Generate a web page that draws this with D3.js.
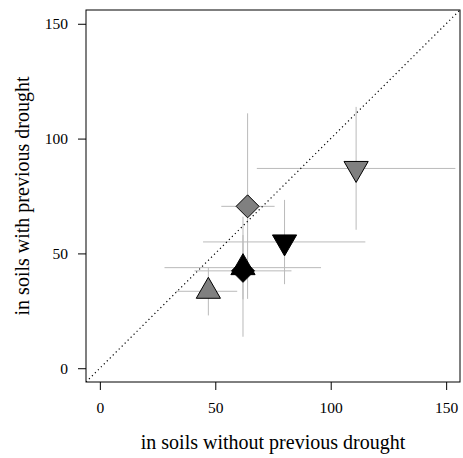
<!DOCTYPE html>
<html>
<head>
<meta charset="utf-8">
<script src="https://cdn.jsdelivr.net/npm/d3@7"></script>
<style>
  body { margin: 0; background: #fff; }
  text { font-family: "Liberation Serif", "Times New Roman", serif; }
</style>
</head>
<body>
<div id="chart"></div>
<script>
// values
const xMean = [111, 64, 80, 62, 62, 47];
const yMean = [87, 70.5, 55, 43.8, 42.4, 33.5];
const xLow  = [68, 52.6, 44.7, 28, 41, 33];
const xHigh = [154, 75.7, 115, 95.8, 83, 59.5];
const yLow  = [60.3, 30.2, 36.6, 13.7, 30, 23];
const yHigh = [113.8, 111, 73.3, 66, 58, 43.8];
const marker = ["down", "diamond", "down", "up", "diamond", "up"];
const group  = ["g", "g", "b", "b", "b", "g"];
const ticks = [0, 50, 100, 150];

const points = xMean.map((x, i) => ({
  x: x, y: yMean[i], x0: xLow[i], x1: xHigh[i], y0: yLow[i], y1: yHigh[i],
  m: marker[i], g: group[i]
}));

const W = 463, H = 458;
const mLeft = 86, mRight = 460, mTop = 10, mBottom = 382;

const svg = d3.select("#chart").append("svg")
  .attr("width", W)
  .attr("height", H);

const x = d3.scaleLinear().domain([-6, 156]).range([mLeft, mRight]);
const y = d3.scaleLinear().domain([-6, 156]).range([mBottom, mTop]);
const fillCol = d3.scaleOrdinal().domain(["g", "b"]).range(["#808080", "#000000"]);

// axes, R style (ticks + labels, box drawn separately)
const xAxis = svg.append("g")
  .attr("transform", `translate(0,${mBottom})`)
  .call(d3.axisBottom(x).tickValues(ticks).tickSize(8).tickPadding(12).tickSizeOuter(0));
const yAxis = svg.append("g")
  .attr("transform", `translate(${mLeft},0)`)
  .call(d3.axisLeft(y).tickValues(ticks).tickSize(8).tickPadding(10).tickSizeOuter(0));
[xAxis, yAxis].forEach(a => {
  a.select(".domain").remove();
  a.selectAll("text").style("font-size", "15.5px").attr("fill", "#000");
});

// clip for diagonal
svg.append("clipPath").attr("id", "plotclip")
  .append("rect").attr("x", mLeft).attr("y", mTop)
  .attr("width", mRight - mLeft).attr("height", mBottom - mTop);

// error bars
const bars = svg.append("g")
  .attr("stroke", "#bababa")
  .attr("stroke-width", 1);
bars.selectAll("line.h")
  .data(points).enter().append("line")
  .attr("class", "h")
  .attr("x1", d => x(d.x0)).attr("x2", d => x(d.x1))
  .attr("y1", d => y(d.y)).attr("y2", d => y(d.y));
bars.selectAll("line.v")
  .data(points).enter().append("line")
  .attr("class", "v")
  .attr("x1", d => x(d.x)).attr("x2", d => x(d.x))
  .attr("y1", d => y(d.y0)).attr("y2", d => y(d.y1));

// marker shapes like R pch 23/24/25
const shapePath = (m) => {
  const r = 14, xc = 12.1, yc = 7, dm = 11.5;
  if (m === "up") return `M0,${-r}L${xc},${yc}L${-xc},${yc}Z`;
  if (m === "down") return `M0,${r}L${xc},${-yc}L${-xc},${-yc}Z`;
  return `M0,${-dm}L${dm},0L0,${dm}L${-dm},0Z`;
};

svg.append("g").selectAll("path")
  .data(points).enter().append("path")
  .attr("transform", d => `translate(${x(d.x)},${y(d.y)})`)
  .attr("d", d => shapePath(d.m))
  .attr("fill", d => fillCol(d.g))
  .attr("stroke", "#000")
  .attr("stroke-width", 1);

// 1:1 line
svg.append("line")
  .attr("clip-path", "url(#plotclip)")
  .attr("x1", x(-6)).attr("y1", y(-6))
  .attr("x2", x(156)).attr("y2", y(156))
  .attr("stroke", "#000")
  .attr("stroke-width", 1.2)
  .attr("stroke-dasharray", "1.2,3");

// box
svg.append("rect")
  .attr("x", mLeft).attr("y", mTop)
  .attr("width", mRight - mLeft).attr("height", mBottom - mTop)
  .attr("fill", "none")
  .attr("stroke", "#000");

// axis titles
svg.append("text")
  .attr("x", (mLeft + mRight) / 2).attr("y", 449)
  .attr("text-anchor", "middle")
  .style("font-size", "20px")
  .text("in soils without previous drought");
svg.append("text")
  .attr("transform", `translate(29,${(mTop + mBottom) / 2}) rotate(-90)`)
  .attr("text-anchor", "middle")
  .style("font-size", "20px")
  .text("in soils with previous drought");
</script>
</body>
</html>
